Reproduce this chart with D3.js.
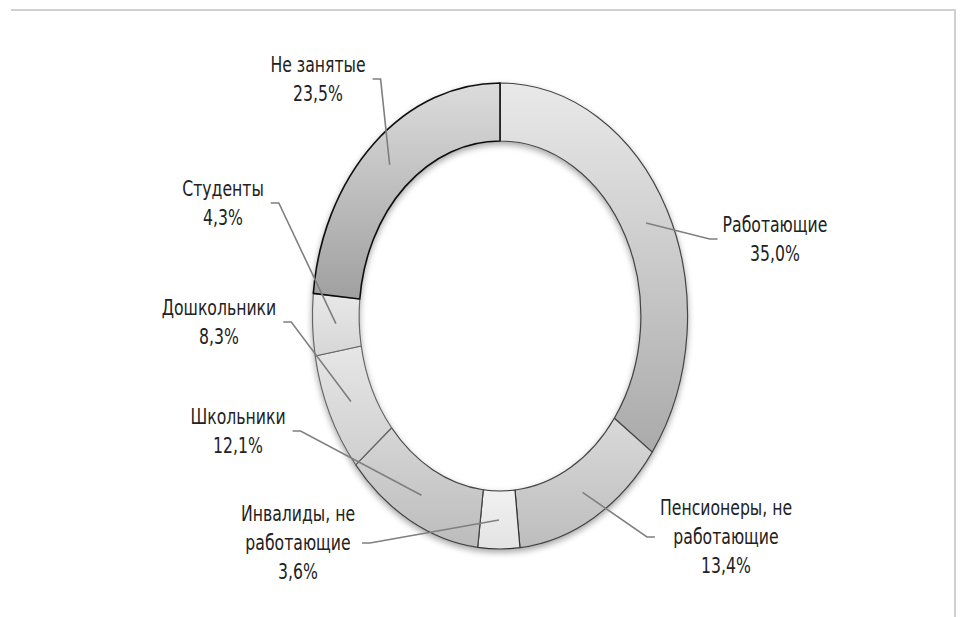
<!DOCTYPE html>
<html lang="ru">
<head>
<meta charset="utf-8" />
<title>Структура населения</title>
<script src="https://d3js.org/d3.v7.min.js"></script>
<style>
    body { margin: 0; background: #ffffff; }
    svg { display: block; }
    .lbl { font-family: "DejaVu Sans", sans-serif; font-stretch: condensed; font-size: 21px; fill: #222; }
</style>
</head>
<body>
<svg id="chart"></svg>
<script>
    // data
    var categories = ["Работающие", "Пенсионеры, не работающие", "Инвалиды, не работающие",
                      "Школьники", "Дошкольники", "Студенты", "Не занятые"];
    var values = [35.0, 13.4, 3.6, 12.1, 8.3, 4.3, 23.5];
    var valueLabels = ["35,0%", "13,4%", "3,6%", "12,1%", "8,3%", "4,3%", "23,5%"];
    // how each label is broken into lines
    var labelLines = [["Работающие"], ["Пенсионеры, не", "работающие"], ["Инвалиды, не", "работающие"],
                      ["Школьники"], ["Дошкольники"], ["Студенты"], ["Не занятые"]];

    // styles (top / bottom of gradient, outline)
    var topColors = ["#e9e9e9", "#d9d9d9", "#f1f1f1", "#d6d6d6", "#e6e6e6", "#e8e8e8", "#dcdcdc"];
    var bottomColors = ["#aaaaaa", "#bdbdbd", "#e3e3e3", "#bcbcbc", "#cfcfcf", "#d6d6d6", "#a0a0a0"];
    var strokeColors = ["#444", "#444", "#333", "#444", "#666", "#666", "#111"];

    // label layout: centre x, leader y
    var labelX = [775, 726, 298, 238, 219, 223, 318];
    var labelY = [239, 537, 543, 431, 322, 203, 79];

    var w = 961, h = 617;
    var cx = 500, cy = 316;
    var outerR = 233, innerR = 175, squeeze = 0.805;
    var lh = 29, textSqueeze = 0.83;

    var svg = d3.select("#chart").attr("width", w).attr("height", h);

    // frame
    svg.append("path")
        .attr("d", "M11,10H955V617")
        .attr("fill", "none")
        .attr("stroke", "#d0d0d0")
        .attr("stroke-width", 2);

    var defs = svg.append("defs");
    var f = defs.append("filter").attr("id", "shadow")
        .attr("x", "-10%").attr("y", "-10%").attr("width", "120%").attr("height", "120%");
    f.append("feDropShadow").attr("dx", 0).attr("dy", 3).attr("stdDeviation", 3)
        .attr("flood-color", "#000").attr("flood-opacity", 0.35);

    categories.forEach(function(c, i) {
        var g = defs.append("linearGradient").attr("id", "grad" + i)
            .attr("x1", 0).attr("y1", 0).attr("x2", 0).attr("y2", 1);
        g.append("stop").attr("offset", "0%").attr("stop-color", topColors[i]);
        g.append("stop").attr("offset", "100%").attr("stop-color", bottomColors[i]);
    });

    var pie = d3.pie().sort(null).value(function(d) { return d; });
    var arcs = pie(values);

    var arc = d3.arc().innerRadius(innerR).outerRadius(outerR);
    var midArc = d3.arc().innerRadius((innerR + outerR) / 2 - 0.5).outerRadius((innerR + outerR) / 2 + 0.5);

    var ringWrap = svg.append("g").attr("filter", "url(#shadow)");
    var ring = ringWrap.append("g")
        .attr("transform", "translate(" + cx + "," + cy + ") scale(" + squeeze + ",1)");

    ring.selectAll("path")
        .data(arcs)
        .enter().append("path")
        .attr("d", arc)
        .attr("fill", function(d) { return "url(#grad" + d.index + ")"; })
        .attr("stroke", function(d) { return strokeColors[d.index]; })
        .attr("stroke-width", function(d) { return d.index === 6 ? 1.6 : 1.2; })
        .attr("vector-effect", "non-scaling-stroke")
        .attr("stroke-linejoin", "round");

    // labels
    var labels = svg.append("g");
    arcs.forEach(function(d, i) {
        var lines = labelLines[i].concat([valueLabels[i]]);
        var n = lines.length;
        var t = labels.append("g")
            .attr("transform", "translate(" + labelX[i] + ",0) scale(" + textSqueeze + ",1)")
            .append("text").attr("class", "lbl").attr("text-anchor", "middle");
        var maxW = 0;
        lines.forEach(function(s, k) {
            var ts = t.append("tspan")
                .attr("x", 0)
                .attr("y", labelY[i] - lh * (n - 1) / 2 + k * lh + 7.5)
                .text(s);
            maxW = Math.max(maxW, ts.node().getComputedTextLength() * textSqueeze);
        });

        // leader line: slice middle -> elbow -> label side
        var c = midArc.centroid(d);
        var sx = cx + c[0] * squeeze, sy = cy + c[1];
        var rightSide = labelX[i] > cx;
        var ex = rightSide ? labelX[i] - maxW / 2 - 5 : labelX[i] + maxW / 2 + 7;
        var bx = rightSide ? ex - 8 : ex + 8;
        svg.append("path")
            .attr("d", d3.line()([[sx, sy], [bx, labelY[i]], [ex, labelY[i]]]))
            .attr("fill", "none")
            .attr("stroke", "#7f7f7f")
            .attr("stroke-width", 1.6);
    });
</script>
</body>
</html>
